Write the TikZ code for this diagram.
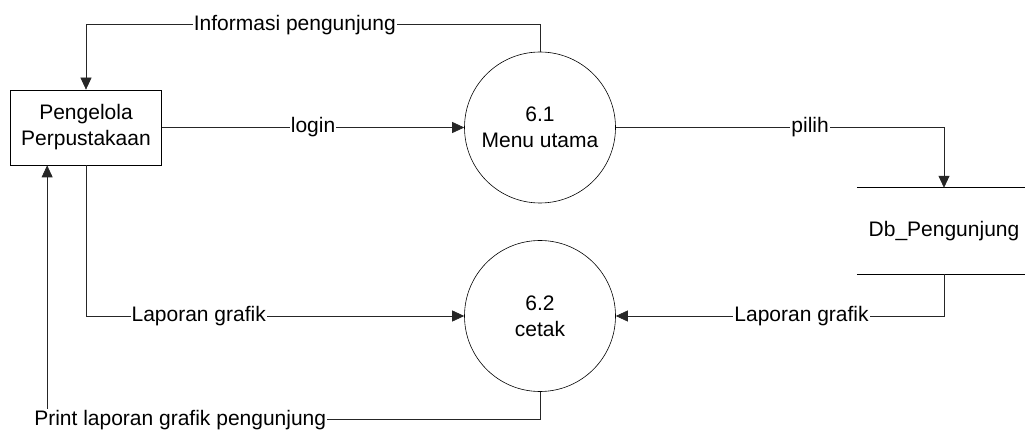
\documentclass[tikz,border=0pt]{standalone}
\usepackage{fontspec}
\setmainfont{Liberation Sans}
\usetikzlibrary{arrows.meta}
\begin{document}
\begin{tikzpicture}[x=1pt,y=-1pt,
  every node/.style={font=\fontsize{21}{26}\selectfont},
  entity/.style={draw, line width=0.7pt, minimum width=151pt, minimum height=75pt, align=center, inner sep=0pt},
  process/.style={draw, circle, line width=0.6pt, minimum size=151pt, align=center, inner sep=0pt},
  datastore/.style={minimum width=174pt, minimum height=86pt, inner sep=0pt},
  flow/.style={draw=black!85, line width=0.7pt, -{Triangle[length=12pt,width=11pt]}},
  lab/.style={fill=white, inner sep=1pt}]
\useasboundingbox (0,0) rectangle (1025,430);

% external entity, processes and data store
\node[entity] (box) at (86,127.5) {Pengelola\\Perpustakaan};
\node[process] (p1) at (540,127.5) {6.1\\Menu utama};
\node[process] (p2) at (540,316) {6.2\\cetak};
\node[datastore] (store) at (944,231) {Db\_Pengunjung};
\draw[line width=0.7pt] (store.north west) -- (store.north east);
\draw[line width=0.7pt] (store.south west) -- (store.south east);

\coordinate (boxin) at ([xshift=37pt]box.south west);

% data flows
\draw[flow] (p1.north) -- ++(0,-27) -| node[lab, pos=0.27] {Informasi pengunjung} (box.north);
\draw[flow] (box.east) -- node[lab] {login} (p1.west);
\draw[flow] (p1.east) -| node[lab, pos=0.296] {pilih} (store.north);
\draw[flow] (store.south) |- node[lab, pos=0.717] {Laporan grafik} (p2.east);
\draw[flow] (box.south) |- node[lab, pos=0.649] {Laporan grafik} (p2.west);
\draw[flow] (p2.south) -- ++(0,28) -| node[lab, pos=0.365] {Print laporan grafik pengunjung} (boxin);
\end{tikzpicture}
\end{document}
